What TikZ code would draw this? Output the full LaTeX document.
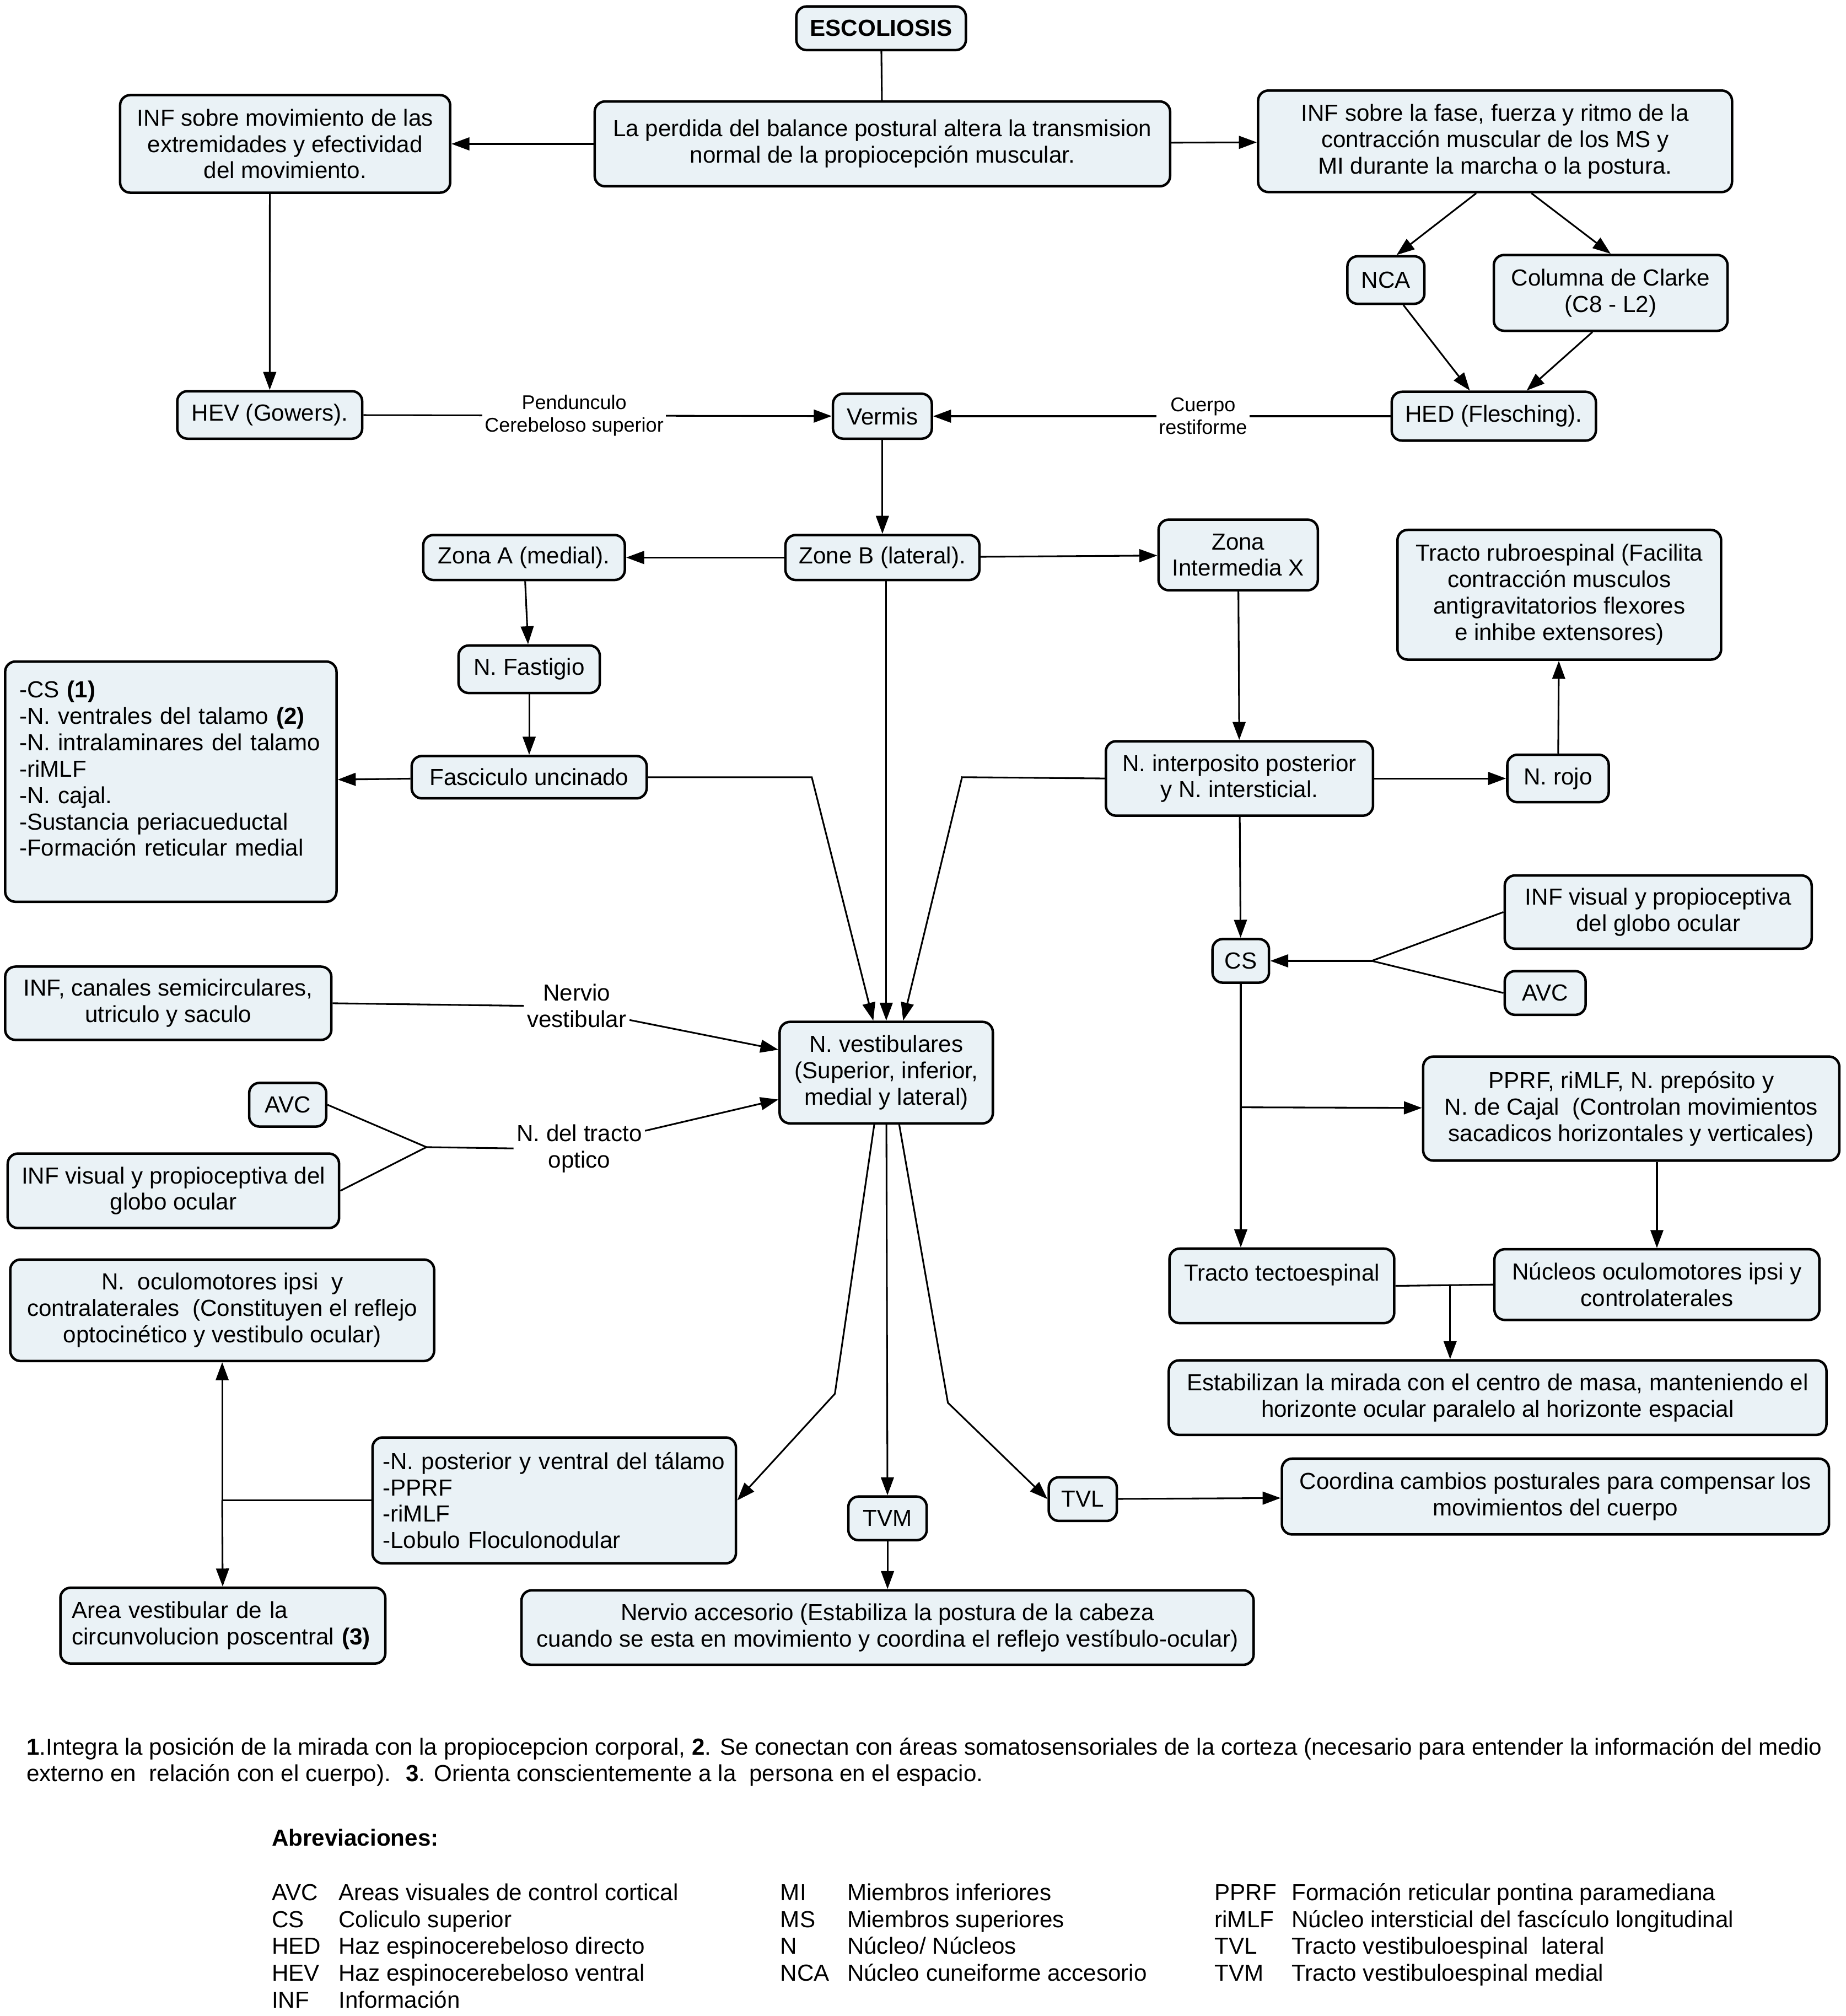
\documentclass[tikz,border=0pt]{standalone}
\usepackage{fontspec}
\setmainfont{Liberation Sans}
\usetikzlibrary{arrows.meta}
\definecolor{boxfill}{RGB}{234,242,246}

\begin{document}
\begin{tikzpicture}[x=0.02cm,y=-0.02cm,>={Triangle[length=0.28cm,width=0.2cm]},
  line width=0.75pt,
  main node/.style={draw,line width=1.1pt,rounded corners=0.16cm,fill=boxfill,
    inner sep=2pt,align=center,font=\fontsize{10.3}{11.7}\selectfont},
  list node/.style={main node,align=left},
  sz/.style 2 args={minimum width=#1*0.02cm,minimum height=#2*0.02cm},
  tract label/.style={fill=white,inner sep=1pt,align=center,font=\fontsize{8.8}{10}\selectfont},
  nerve label/.style={inner sep=1pt,align=center,font=\fontsize{10.3}{11.7}\selectfont},
  note/.style={inner sep=0pt,font=\fontsize{10.3}{11.9}\selectfont}]
  \path[fill=white] (0,0) rectangle (1437,1569);
  % boxes
  \node[main node,sz={132}{34}] (1) at (686,22) {\textbf{ESCOLIOSIS}};
  \node[main node,sz={448}{66}] (2) at (687,112) {La perdida del balance postural altera la transmision\\normal de la propiocepción muscular.};
  \node[main node,sz={257}{76}] (3) at (222,112) {INF sobre movimiento de las\\extremidades y efectividad\\del movimiento.};
  \node[main node,sz={369}{79}] (4) at (1164,110) {INF sobre la fase, fuerza y ritmo de la\\contracción muscular de los MS y\\MI durante la marcha o la postura.};
  \node[main node,sz={60}{37}] (5) at (1079,218) {NCA};
  \node[main node,sz={182}{59}] (6) at (1254,228) {Columna de Clarke\\(C8 - L2)};
  \node[main node,sz={144}{37}] (7) at (210,323) {HEV (Gowers).};
  \node[main node,sz={77}{35}] (8) at (687,324) {Vermis};
  \node[main node,sz={159}{38}] (9) at (1163,324) {HED (Flesching).};
  \node[main node,sz={157}{35}] (10) at (408,434) {Zona A (medial).};
  \node[main node,sz={151}{35}] (11) at (687,434) {Zone B (lateral).};
  \node[main node,sz={124}{55}] (12) at (964,432) {Zona\\Intermedia X};
  \node[main node,sz={252}{101}] (13) at (1214,463) {Tracto rubroespinal (Facilita\\contracción musculos\\antigravitatorios flexores\\e inhibe extensores)};
  \node[main node,sz={110}{37}] (14) at (412,521) {N. Fastigio};
  \node[main node,sz={183}{33}] (15) at (412,605) {Fasciculo uncinado};
  \node[list node,text width=4.72cm,inner xsep=0.22cm,sz={258}{187}] (16) at (133,608.5) {-CS \textbf{(1)}\\-N. ventrales del talamo \textbf{(2)}\\-N. intralaminares del talamo\\-riMLF\\-N. cajal.\\-Sustancia periacueductal\\-Formación reticular medial\\\mbox{}};
  \node[main node,sz={208}{58}] (17) at (965,606) {N. interposito posterior\\y N. intersticial.};
  \node[main node,sz={79}{37}] (18) at (1213,606) {N. rojo};
  \node[main node,sz={239}{57}] (19) at (1291,710) {INF visual y propioceptiva\\del globo ocular};
  \node[main node,sz={44}{34}] (20) at (966,748) {CS};
  \node[main node,sz={63}{34}] (21) at (1203,773) {AVC};
  \node[main node,sz={254}{57}] (22) at (131,781) {INF, canales semicirculares,\\utriculo y saculo};
  \node[main node,sz={166}{79}] (23) at (690,835) {N. vestibulares\\(Superior, inferior,\\medial y lateral)};
  \node[main node,sz={60}{34}] (24) at (224,860) {AVC};
  \node[main node,sz={258}{58}] (25) at (135,927) {INF visual y propioceptiva del\\globo ocular};
  \node[main node,sz={324}{81}] (26) at (1270,863) {PPRF, riMLF, N. prepósito y\\N. de Cajal \ (Controlan movimientos\\sacadicos horizontales y verticales)};
  \node[main node,sz={175}{58}] (27) at (998,1001) {Tracto tectoespinal\\\mbox{}};
  \node[main node,sz={253}{55}] (28) at (1290,1000) {Núcleos oculomotores ipsi y\\controlaterales};
  \node[main node,sz={512}{58}] (29) at (1166,1088) {Estabilizan la mirada con el centro de masa, manteniendo el\\horizonte ocular paralelo al horizonte espacial};
  \node[main node,sz={330}{79}] (30) at (173,1020) {N. \ oculomotores ipsi \ y\\contralaterales \ (Constituyen el reflejo\\optocinético y vestibulo ocular)};
  \node[list node,text width=5.34cm,inner xsep=0.16cm,sz={283}{98}] (31) at (431.5,1168) {-N. posterior y ventral del tálamo\\-PPRF\\-riMLF\\-Lobulo Floculonodular};
  \node[main node,sz={61}{34}] (32) at (691,1182) {TVM};
  \node[main node,sz={53}{34}] (33) at (843,1167) {TVL};
  \node[main node,sz={426}{59}] (34) at (1211,1165) {Coordina cambios posturales para compensar los\\movimientos del cuerpo};
  \node[list node,text width=4.7cm,inner xsep=0.18cm,sz={253}{59}] (35) at (173.5,1265.5) {Area vestibular de la\\circunvolucion poscentral \textbf{(3)}};
  \node[main node,sz={570}{58}] (36) at (691,1267) {Nervio accesorio (Estabiliza la postura de la cabeza\\cuando se esta en movimiento y coordina el reflejo vestíbulo-ocular)};
  \node[nerve label] (37) at (449,783) {Nervio\\vestibular};
  \node[nerve label] (38) at (451,894) {N. del tracto\\optico};
  % junctions and bends
  \coordinate (j1) at (332,893);
  \coordinate (j2) at (1068,748);
  \coordinate (j3) at (966,862);
  \coordinate (j4) at (1129,1000);
  \coordinate (j5) at (173,1168);
  \coordinate (c1) at (632,605);
  \coordinate (c2) at (749,605);
  \coordinate (b1) at (650,1085);
  \coordinate (b2) at (738,1092);
  \path[->]
    (1) edge[-] (2)
    (2) edge (3)
        edge (4)
    (4.-110) edge (5.67)
    (4.-55) edge (6.north)
    (5.-55) edge (9.133)
    (6.-115) edge (9.38)
    (3.-107.5) edge (7.north)
    (7) edge node[tract label,pos=0.45] {Pendunculo\\Cerebeloso superior} (8)
    (9) edge node[tract label,pos=0.41] {Cuerpo\\restiforme} (8)
    (8) edge (11)
    (11) edge (10)
         edge (12)
    (10) edge (14)
    (14) edge (15)
    (15) edge (16)
    (12) edge (17)
    (17) edge (18)
    (18) edge (13)
    (17) edge (20)
    (j2) edge (20)
    (20.south) edge (20.south |- 27.north)
    (j3) edge (26)
    (26.south -| 28.north) edge (28)
    (j4) edge (j4 |- 29.north)
    (11.south -| 23.north) edge (23)
    (37.-15) edge (23.168)
    (38.15) edge (23.-166)
    (23) edge (32)
    (32) edge (36)
    (33) edge (34)
    (j5) edge (30)
         edge (35);
  \draw (19.west) -- (j2) -- (21.west);
  \draw (24.east) -- (j1) -- (25.east);
  \draw (j1) -- (38.west);
  \draw (22.east) -- (37.west);
  \draw (27.east) -- (28.west);
  \draw (31.west) -- (j5);
  \draw[->] (15.east) -- (c1) -- (23.104);
  \draw[->] (17.west) -- (c2) -- (23.72);
  \draw[->] (23.-103) -- (b1) -- (31.east);
  \draw[->] (23.-76) -- (b2) -- (33.west);
  % notes
  \node[note,anchor=north west,align=left] (39) at (20,1352) {\textbf{1}.Integra la posición de la mirada con la propiocepcion corporal, \textbf{2}. Se conectan con áreas somatosensoriales de la corteza (necesario para entender la información del medio\\externo en \ relación con el cuerpo). \ \textbf{3}. Orienta conscientemente a la \ persona en el espacio.};
  \node[note,anchor=base west] (40) at (211,1437) {\textbf{Abreviaciones:}};
  \node[note,anchor=base west] (41) at (211,1479.5) {\begin{tabular}[t]{@{}p{1.04cm}@{}l@{}}
    AVC & Areas visuales de control cortical\\
    CS & Coliculo superior\\
    HED & Haz espinocerebeloso directo\\
    HEV & Haz espinocerebeloso ventral\\
    INF & Información
  \end{tabular}};
  \node[note,anchor=base west] (42) at (607,1479.5) {\begin{tabular}[t]{@{}p{1.04cm}@{}l@{}}
    MI & Miembros inferiores\\
    MS & Miembros superiores\\
    N & Núcleo/ Núcleos\\
    NCA & Núcleo cuneiforme accesorio
  \end{tabular}};
  \node[note,anchor=base west] (43) at (945,1479.5) {\begin{tabular}[t]{@{}p{1.2cm}@{}l@{}}
    PPRF & Formación reticular pontina paramediana\\
    riMLF & Núcleo intersticial del fascículo longitudinal\\
    TVL & Tracto vestibuloespinal \ lateral\\
    TVM & Tracto vestibuloespinal medial
  \end{tabular}};
\end{tikzpicture}
\end{document}
